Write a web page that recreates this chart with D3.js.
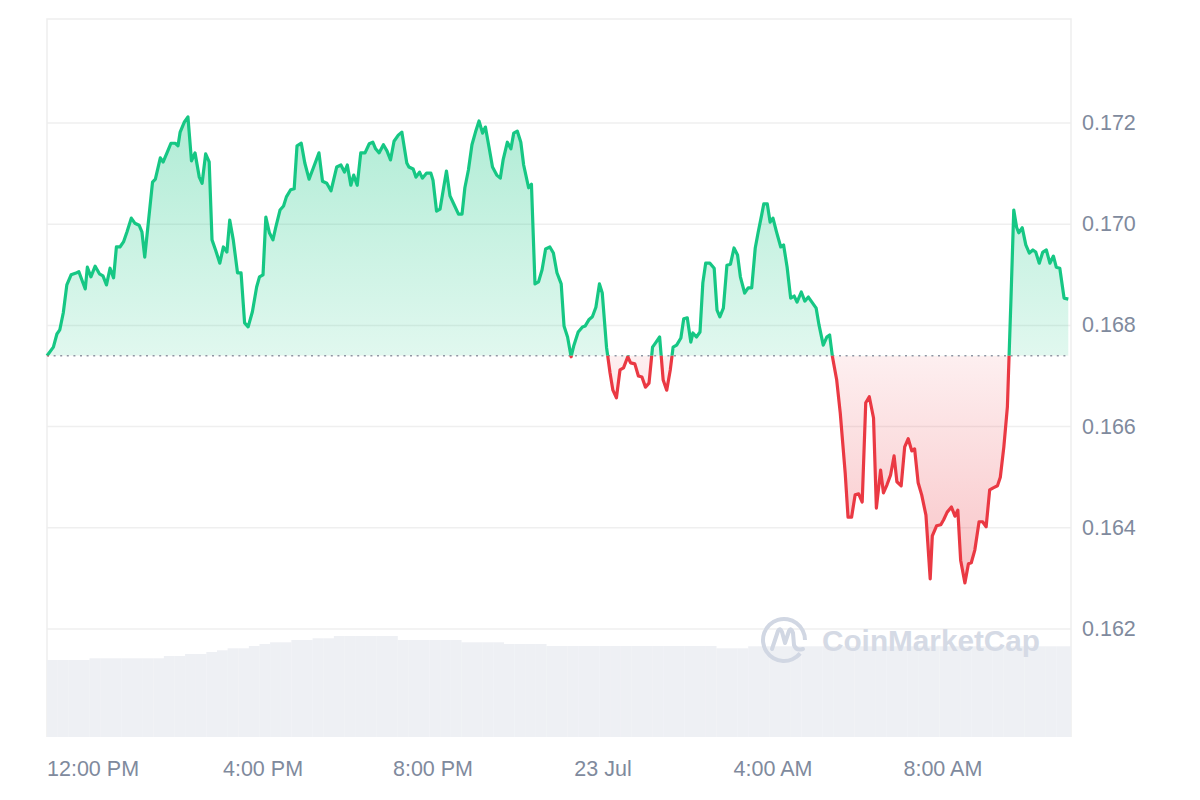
<!DOCTYPE html>
<html>
<head>
<meta charset="utf-8">
<script src="https://cdn.jsdelivr.net/npm/d3@7"></script>
<style>
  html, body { margin: 0; padding: 0; background: #ffffff; }
  svg { display: block; font-family: "Liberation Sans", Arial, Helvetica, sans-serif; }
</style>
</head>
<body>
<svg id="chart" width="1200" height="800"></svg>
<script>
// ---------------- DATA ----------------
const startTime = new Date(2024, 6, 22, 10, 55); // 22 Jul, 10:55
const minutes = [0,9,14,18,23,28,34,42,45,54,57,62,68,74,79,84,89,94,98,103,108,113,119,124,130,134,138,149,153,160,164,170,175,181,185,188,194,199,204,209,215,219,224,229,233,238,244,249,254,258,263,269,274,279,284,290,296,300,305,309,314,319,323,329,334,338,344,349,353,359,364,370,376,384,389,395,401,409,415,420,424,429,433,438,443,449,455,460,464,469,475,480,485,490,496,501,508,511,517,521,526,530,536,542,545,550,555,560,564,569,575,581,586,590,595,600,605,610,615,619,624,629,635,640,644,650,655,659,664,669,673,680,684,689,694,699,704,710,715,720,726,730,735,740,744,750,756,760,765,770,775,780,784,790,795,799,804,809,814,820,824,830,835,840,845,850,855,859,865,870,875,880,884,889,895,899,904,909,912,917,922,926,930,936,942,946,950,955,960,965,970,975,979,985,990,995,1000,1004,1009,1012,1017,1021,1025,1030,1036,1040,1045,1050,1055,1059,1065,1070,1075,1080,1086,1090,1096,1101,1105,1109,1115,1120,1127,1131,1136,1141,1146,1151,1156,1161,1167,1171,1177,1181,1186,1191,1196,1200,1206,1211,1216,1221,1225,1230,1235,1241,1247,1250,1256,1262,1266,1271,1277,1282,1286,1290,1296,1301,1305,1310,1316,1321,1326,1331,1336,1342,1346,1351,1356,1361,1365,1369,1372,1377,1382,1387,1392,1396,1401,1406,1411,1416,1421,1425,1430,1436,1442];

const prices = [0.16740,0.16757,0.16783,0.16791,0.16825,0.16880,0.16900,0.16904,0.16906,0.16872,
0.16915,0.16896,0.16917,0.16902,0.16898,0.16880,0.16913,0.16894,0.16955,0.16955,
0.16965,0.16985,0.17012,0.17002,0.16998,0.16985,0.16935,0.17083,0.17089,0.17131,
0.17123,0.17143,0.17160,0.17160,0.17155,0.17182,0.17202,0.17212,0.17125,0.17141,
0.17093,0.17081,0.17139,0.17123,0.16969,0.16949,0.16923,0.16955,0.16945,0.17008,
0.16969,0.16904,0.16904,0.16805,0.16797,0.16827,0.16876,0.16896,0.16900,0.17014,
0.16983,0.16969,0.16994,0.17028,0.17036,0.17054,0.17068,0.17070,0.17155,0.17160,
0.17121,0.17089,0.17111,0.17141,0.17085,0.17081,0.17066,0.17113,0.17117,0.17103,
0.17117,0.17077,0.17097,0.17077,0.17141,0.17141,0.17159,0.17162,0.17149,0.17141,
0.17157,0.17145,0.17127,0.17164,0.17176,0.17182,0.17121,0.17113,0.17109,0.17093,
0.17103,0.17091,0.17101,0.17101,0.17087,0.17026,0.17030,0.17072,0.17105,0.17056,
0.17038,0.17020,0.17020,0.17072,0.17107,0.17157,0.17182,0.17204,0.17180,0.17192,
0.17153,0.17113,0.17097,0.17091,0.17127,0.17162,0.17149,0.17180,0.17184,0.17162,
0.17117,0.17072,0.17079,0.16882,0.16886,0.16910,0.16951,0.16955,0.16943,0.16904,
0.16882,0.16799,0.16777,0.16738,0.16761,0.16787,0.16797,0.16799,0.16811,0.16817,
0.16836,0.16882,0.16864,0.16757,0.16706,0.16672,0.16657,0.16712,0.16716,0.16738,
0.16726,0.16724,0.16700,0.16698,0.16678,0.16686,0.16757,0.16765,0.16777,0.16692,
0.16672,0.16712,0.16757,0.16761,0.16775,0.16813,0.16815,0.16767,0.16785,0.16777,
0.16787,0.16884,0.16923,0.16923,0.16913,0.16830,0.16817,0.16834,0.16919,0.16921,
0.16953,0.16939,0.16896,0.16864,0.16874,0.16874,0.16953,0.16983,0.17018,0.17040,
0.17040,0.17004,0.17012,0.16985,0.16955,0.16959,0.16915,0.16854,0.16858,0.16846,
0.16866,0.16848,0.16856,0.16846,0.16834,0.16801,0.16761,0.16777,0.16781,0.16738,
0.16692,0.16627,0.16508,0.16421,0.16421,0.16465,0.16467,0.16451,0.16647,0.16659,
0.16617,0.16439,0.16514,0.16469,0.16485,0.16504,0.16542,0.16491,0.16483,0.16560,
0.16576,0.16552,0.16556,0.16489,0.16465,0.16425,0.16299,0.16384,0.16404,0.16406,
0.16416,0.16431,0.16441,0.16423,0.16435,0.16336,0.16291,0.16329,0.16331,0.16356,
0.16412,0.16412,0.16402,0.16475,0.16479,0.16483,0.16500,0.16560,0.16639,0.16850,
0.17028,0.16994,0.16983,0.16993,0.16959,0.16943,0.16949,0.16945,0.16923,0.16945,
0.16949,0.16923,0.16937,0.16915,0.16913,0.16854,0.16852];

// rolling volume (relative units), one value per 15-minute slot
const volMinutes = d3.range(0, 1441, 15);
const volume = [77,77,77,77,78.7,78.7,78.7,78.7,78.7,78.7,
78.7,81,81,83,83,85,86.7,88.7,88.7,91,
93,94.7,94.7,97,97,98.7,98.7,101,101,101,
101,101,101,97,97,97,97,97,97,94.7,
94.7,94.7,94.7,93,93,93,93,91,91,91,
91,91,91,91,91,91,91,91,91,91,
91,91,91,88.7,88.7,88.7,90.7,90.7,90.7,90.7,
90.7,90.7,90.7,90.7,90.7,90.7,90.7,90.7,90.7,90.7,
90.7,90.7,90.7,90.7,90.7,90.7,90.7,90.7,90.7,90.7,
90.7,90.7,90.7,90.7,90.7,90.7,90.7];

const priceTicks = [0.162, 0.164, 0.166, 0.168, 0.170, 0.172];
const openPrice = prices[0];

// ---------------- SETUP ----------------
const svg = d3.select("#chart");
const plot = { left: 47, right: 1071, top: 19, bottom: 737 };
const n = Math.min(minutes.length, prices.length);
const toDate = m => new Date(startTime.getTime() + m * 60000);
const data = d3.range(n).map(i => ({ t: toDate(minutes[i]), p: prices[i] }));

const x = d3.scaleTime()
  .domain([toDate(0), toDate(minutes[n - 1])])
  .range([47, 1068.3]);
const y = d3.scaleLinear().domain([0.162, 0.172]).range([629, 123]);
const yVol = d3.scaleLinear().domain([0, 101]).range([plot.bottom, 636]);
const yBase = y(openPrice);

const defs = svg.append("defs");
defs.append("clipPath").attr("id", "plotClip").append("rect")
  .attr("x", plot.left).attr("y", plot.top)
  .attr("width", plot.right - plot.left).attr("height", plot.bottom - plot.top);
defs.append("clipPath").attr("id", "aboveClip").append("rect")
  .attr("x", 0).attr("y", 0).attr("width", 1200).attr("height", yBase);
defs.append("clipPath").attr("id", "belowClip").append("rect")
  .attr("x", 0).attr("y", yBase).attr("width", 1200).attr("height", 800 - yBase);

const gGreen = defs.append("linearGradient").attr("id", "gradGreen")
  .attr("gradientUnits", "userSpaceOnUse")
  .attr("x1", 0).attr("x2", 0).attr("y1", y(d3.max(prices))).attr("y2", yBase);
gGreen.append("stop").attr("offset", 0).attr("stop-color", "#16c784").attr("stop-opacity", 0.34);
gGreen.append("stop").attr("offset", 1).attr("stop-color", "#16c784").attr("stop-opacity", 0.13);

const gRed = defs.append("linearGradient").attr("id", "gradRed")
  .attr("gradientUnits", "userSpaceOnUse")
  .attr("x1", 0).attr("x2", 0).attr("y1", yBase).attr("y2", y(d3.min(prices)));
gRed.append("stop").attr("offset", 0).attr("stop-color", "#ea3943").attr("stop-opacity", 0.08);
gRed.append("stop").attr("offset", 1).attr("stop-color", "#ea3943").attr("stop-opacity", 0.30);

// ---------------- FRAME & GRID ----------------
svg.append("g").selectAll("line").data(priceTicks).join("line")
  .attr("x1", plot.left).attr("x2", plot.right)
  .attr("y1", d => y(d)).attr("y2", d => y(d))
  .attr("stroke", "#efefef").attr("stroke-width", 1.5);

svg.append("path")
  .attr("d", `M${plot.left},${plot.bottom}V${plot.top}H${plot.right}V${plot.bottom}`)
  .attr("fill", "none").attr("stroke", "#eeeeee").attr("stroke-width", 1.5);

// ---------------- VOLUME ----------------
const slotW = x(toDate(15)) - x(toDate(0));
svg.append("g").attr("clip-path", "url(#plotClip)")
  .selectAll("rect").data(volume.map((v, i) => ({ t: toDate(volMinutes[i]), v })))
  .join("rect")
  .attr("x", d => x(d.t))
  .attr("width", slotW + 0.2)
  .attr("y", d => yVol(d.v))
  .attr("height", d => plot.bottom - yVol(d.v))
  .attr("fill", "#eef0f4");

// ---------------- WATERMARK ----------------
const wm = svg.append("g").attr("fill", "none").attr("stroke", "#d1d7e3");
const cx = 784, cy = 640, r = 21;
const arcGen = d3.arc().innerRadius(r - 2).outerRadius(r + 2)
  .startAngle(Math.PI * 0.72).endAngle(Math.PI * 2.5);
svg.append("path").attr("d", arcGen()).attr("transform", `translate(${cx},${cy})`)
  .attr("fill", "#d1d7e3");
wm.append("path")
  .attr("d", `M${cx-12},${cy+9} L${cx-6},${cy-9} Q${cx-4},${cy-13} ${cx-2},${cy-8} L${cx+1},${cy+3} L${cx+5},${cy-9} Q${cx+7},${cy-13} ${cx+9},${cy-7} L${cx+10},${cy+5} Q${cx+12},${cy+11} ${cx+19},${cy+9}`)
  .attr("stroke-width", 4).attr("stroke-linecap", "round").attr("stroke-linejoin", "round");
svg.append("text").attr("x", 822).attr("y", 651)
  .attr("font-size", 29).attr("font-weight", 700).attr("fill", "#d5dae5")
  .attr("textLength", 218).attr("lengthAdjust", "spacingAndGlyphs")
  .text("CoinMarketCap");

// ---------------- PRICE AREA & LINE ----------------
const area = d3.area().x(d => x(d.t)).y0(yBase).y1(d => y(d.p));
const line = d3.line().x(d => x(d.t)).y(d => y(d.p));

svg.append("path").datum(data).attr("d", area)
  .attr("fill", "url(#gradGreen)").attr("clip-path", "url(#aboveClip)");
svg.append("path").datum(data).attr("d", area)
  .attr("fill", "url(#gradRed)").attr("clip-path", "url(#belowClip)");

// dotted baseline at the opening price
svg.append("line")
  .attr("x1", x(data[0].t)).attr("x2", x(data[n - 1].t))
  .attr("y1", yBase).attr("y2", yBase)
  .attr("stroke", "#8f95a3").attr("stroke-width", 1.6)
  .attr("stroke-dasharray", "2,4.6");

svg.append("path").datum(data).attr("d", line)
  .attr("fill", "none").attr("stroke", "#16c784").attr("stroke-width", 3.2)
  .attr("stroke-linejoin", "round").attr("clip-path", "url(#aboveClip)");
svg.append("path").datum(data).attr("d", line)
  .attr("fill", "none").attr("stroke", "#ea3943").attr("stroke-width", 3.2)
  .attr("stroke-linejoin", "round").attr("clip-path", "url(#belowClip)");

// ---------------- AXES ----------------
const fmtTime = d3.timeFormat("%-I:%M %p");
const fmtDay = d3.timeFormat("%-d %b");
const xTicks = x.ticks(d3.timeHour.every(4));
svg.append("g").selectAll("text").data(xTicks).join("text")
  .attr("x", d => x(d)).attr("y", 776)
  .attr("text-anchor", "middle")
  .attr("font-size", 21.5).attr("fill", "#808a9d")
  .text(d => d.getHours() === 0 ? fmtDay(d) : fmtTime(d));

svg.append("g").selectAll("text").data(priceTicks).join("text")
  .attr("x", 1082).attr("y", d => y(d))
  .attr("dominant-baseline", "central")
  .attr("font-size", 21.5).attr("fill", "#808a9d")
  .text(d => d3.format(".3f")(d));
</script>
</body>
</html>
